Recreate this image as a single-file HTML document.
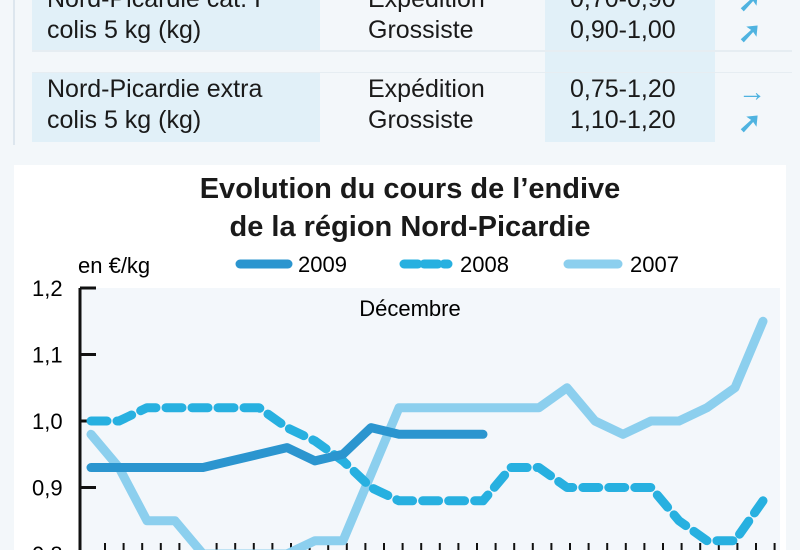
<!DOCTYPE html>
<html><head><meta charset="utf-8"><style>
body{margin:0;width:800px;height:550px;overflow:hidden;background:#f3f7fa;font-family:"Liberation Sans Narrow","Liberation Sans",sans-serif;position:relative;color:#1a1a1a}
.abs{position:absolute}
.t{font-size:25px;line-height:31px}
.ar{font-size:28px;line-height:31px;color:#4fb3e0;font-weight:bold}
</style></head><body>
<div class="abs" style="left:13px;top:0;width:2px;height:145px;background:#dde6ee"></div>
<div class="abs" style="left:32px;top:0;width:288px;height:50px;background:#e1f0f8"></div>
<div class="abs" style="left:32px;top:72px;width:288px;height:70px;background:#e1f0f8"></div>
<div class="abs" style="left:545px;top:0;width:170px;height:142px;background:#e1f0f8"></div>
<div class="abs" style="left:32px;top:50px;width:760px;height:2px;background:#e6edf2"></div>
<div class="abs" style="left:32px;top:72px;width:760px;height:1px;background:#e6edf2"></div>
<div class="abs t" style="left:47px;top:-16px">Nord-Picardie cat. I<br>colis 5 kg (kg)</div>
<div class="abs t" style="left:368px;top:-16px">Expédition<br>Grossiste</div>
<div class="abs t" style="left:570px;top:-16px">0,70-0,90<br>0,90-1,00</div>
<div class="abs ar" style="left:738px;top:-14px">➚<br>➚</div>
<div class="abs t" style="left:47px;top:74px">Nord-Picardie extra<br>colis 5 kg (kg)</div>
<div class="abs t" style="left:368px;top:74px">Expédition<br>Grossiste</div>
<div class="abs t" style="left:570px;top:74px">0,75-1,20<br>1,10-1,20</div>
<div class="abs ar" style="left:738px;top:76px">→<br>➚</div>
<div class="abs" style="left:14px;top:165px;width:772px;height:385px;background:#fff"></div>
<div class="abs" style="left:0;top:170px;width:820px;text-align:center;font-size:29px;font-weight:bold;line-height:38px">Evolution du cours de l’endive<br>de la région Nord-Picardie</div>
<svg class="abs" style="left:0;top:0" width="800" height="550">
<rect x="80" y="288" width="700" height="262" fill="#f3f7fb"/>
<g id="axes"></g><g id="series"></g>
<text x="78" y="273" font-size="22" font-family="Liberation Sans Narrow, Liberation Sans, sans-serif">en €/kg</text>
<line x1="240" y1="264" x2="288" y2="264" stroke="#2b95cf" stroke-width="9" stroke-linecap="round"/>
<text x="298" y="272" font-size="22" font-family="Liberation Sans Narrow, Liberation Sans, sans-serif">2009</text>
<line x1="404" y1="264" x2="448" y2="264" stroke="#27b0e0" stroke-width="9" stroke-dasharray="14 6" stroke-linecap="round"/>
<text x="460" y="272" font-size="22" font-family="Liberation Sans Narrow, Liberation Sans, sans-serif">2008</text>
<line x1="568" y1="264" x2="618" y2="264" stroke="#8ccfee" stroke-width="9" stroke-linecap="round"/>
<text x="630" y="272" font-size="22" font-family="Liberation Sans Narrow, Liberation Sans, sans-serif">2007</text>
<text x="410" y="316" text-anchor="middle" font-size="22" font-family="Liberation Sans Narrow, Liberation Sans, sans-serif">Décembre</text>
</svg>
<script>
const yTicks=[0.8,0.9,1.0,1.1,1.2];
const yTickLabels=["0,8","0,9","1,0","1,1","1,2"];
const s2009=[0.93,0.93,0.93,0.93,0.93,0.94,0.95,0.96,0.94,0.95,0.99,0.98,0.98,0.98,0.98];
const s2008=[1.0,1.0,1.02,1.02,1.02,1.02,1.02,0.99,0.97,0.94,0.90,0.88,0.88,0.88,0.88,0.93,0.93,0.90,0.90,0.90,0.90,0.85,0.82,0.82,0.88];
const s2007=[0.98,0.93,0.85,0.85,0.80,0.80,0.80,0.80,0.82,0.82,0.92,1.02,1.02,1.02,1.02,1.02,1.02,1.05,1.0,0.98,1.0,1.0,1.02,1.05,1.15];
const NS='http://www.w3.org/2000/svg';
const xs=i=>91+28*i, ys=v=>421-(v-1)*665;
const ax=document.getElementById('axes'), se=document.getElementById('series');
function mk(tag,attrs,parent){const e=document.createElementNS(NS,tag);for(const k in attrs)e.setAttribute(k,attrs[k]);parent.appendChild(e);return e;}
let l=mk('line',{x1:80,y1:288,x2:80,y2:550,stroke:'#111','stroke-width':3},ax);


yTicks.forEach((v,i)=>{
 const t=mk('line',{x1:80,y1:ys(v),x2:96,y2:ys(v),stroke:'#111','stroke-width':3},ax);
 
 
 const tx=mk('text',{x:32,y:ys(v)+8,'font-size':22,'font-family':'Liberation Sans Narrow, Liberation Sans, sans-serif'},ax);
 tx.textContent=yTickLabels[i];
 
 
});
for(let i=0;i<37;i++){
 const t=mk('line',{x1:105+18.6*i,y1:543,x2:105+18.6*i,y2:550,stroke:'#111','stroke-width':2},ax);
 
 
}
function line(arr,color,dash,name){
 const p=mk('polyline',{points:arr.map((v,i)=>xs(i)+','+ys(v)).join(' '),fill:'none',stroke:color,'stroke-width':9,'stroke-linejoin':'round','stroke-linecap':'round'},se);
 if(dash)p.setAttribute('stroke-dasharray',dash);
 
 
}
line(s2007,'#8ccfee',null,'line-2007');
line(s2008,'#27b0e0','16 10','line-2008');
line(s2009,'#2b95cf',null,'line-2009');
</script>
</body></html>
